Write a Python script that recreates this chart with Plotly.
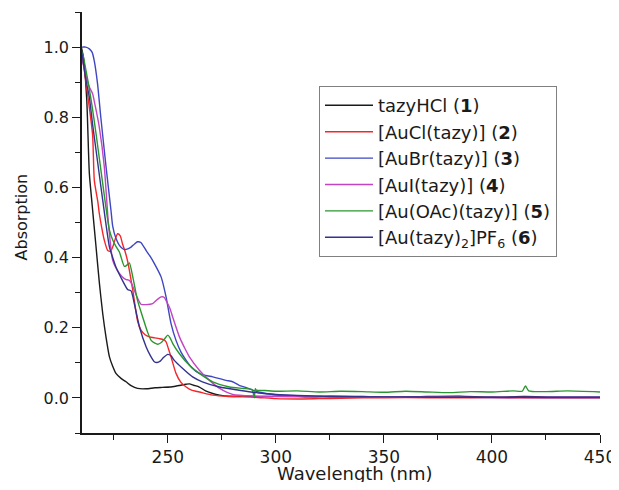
import plotly.graph_objects as go

# ---- data (wavelength in nm, absorption) ----
wl_1 = [210, 211, 212.5, 213.7, 215, 216.8, 218.3, 219.9, 221.5, 223, 224.5, 226, 228.5, 230.7, 233, 236, 240, 244, 247.6, 251, 254, 256.5, 258.5, 260, 262, 264.6, 267.5, 270.8, 274, 278.5, 285, 295, 305, 315, 325, 340, 355, 370, 385, 400, 415, 430, 450]
ab_1 = [1.0, 0.97, 0.85, 0.64, 0.55, 0.43, 0.33, 0.24, 0.17, 0.117, 0.09, 0.07, 0.055, 0.046, 0.035, 0.027, 0.026, 0.029, 0.03, 0.031, 0.034, 0.037, 0.039, 0.04, 0.036, 0.031, 0.02, 0.0125, 0.008, 0.005, 0.005, 0.004, 0.006, 0.003, 0.005, 0.004, 0.002, 0.004, 0.005, 0.002, 0.004, 0.002, 0.002]

wl_2 = [210, 211, 213, 215.2, 216, 217.6, 218.3, 219.9, 220.6, 222.2, 223.5, 224.5, 225.8, 226.8, 228, 229, 230.2, 231.4, 233.8, 236, 237.6, 239.5, 241.5, 244, 246, 248, 249.2, 250.3, 251.5, 253.8, 256, 258.5, 261, 264.6, 270.8, 278, 290, 300, 310, 320, 330, 340, 360, 380, 400, 420, 450]
ab_2 = [0.98, 0.95, 0.86, 0.75, 0.62, 0.56, 0.526, 0.47, 0.45, 0.42, 0.418, 0.43, 0.455, 0.468, 0.462, 0.44, 0.418, 0.39, 0.307, 0.22, 0.193, 0.18, 0.174, 0.171, 0.169, 0.166, 0.16, 0.14, 0.117, 0.07, 0.045, 0.031, 0.022, 0.017, 0.008, 0.004, 0.002, -0.002, -0.003, -0.002, -0.001, 0.0, 0.001, 0.0, 0.001, 0.0, 0.0]

wl_3 = [210, 210.6, 212, 213.7, 215, 216, 217.5, 219, 221.4, 223.7, 224.5, 226, 227.6, 229, 229.9, 231.5, 233, 234.5, 236, 237.5, 240, 242, 243.8, 246.9, 249.2, 251.5, 253.8, 256, 258.5, 261, 264.6, 267.5, 270.8, 274, 277, 280, 283, 286, 289.3, 292, 295.5, 300, 310, 320, 335, 350, 375, 400, 425, 450]
ab_3 = [1.0, 1.0, 1.0, 0.995, 0.985, 0.96, 0.895, 0.8, 0.66, 0.535, 0.49, 0.455, 0.435, 0.426, 0.423, 0.425, 0.43, 0.438, 0.445, 0.443, 0.42, 0.402, 0.383, 0.345, 0.288, 0.212, 0.164, 0.132, 0.107, 0.087, 0.07, 0.064, 0.06, 0.055, 0.05, 0.046, 0.036, 0.03, 0.022, 0.017, 0.0125, 0.009, 0.006, 0.004, 0.003, 0.002, 0.002, 0.001, 0.002, 0.002]

wl_4 = [210, 211, 212.5, 213.7, 215.2, 216.5, 218.3, 220.6, 222.5, 224.5, 226.5, 229, 230.5, 232.2, 233.3, 234.5, 236, 237.6, 240, 243, 245, 246.9, 248.3, 249.5, 251, 252.3, 255.4, 258, 260, 264.6, 269.3, 274, 280, 290, 300, 320, 350, 380, 410, 450]
ab_4 = [0.97, 0.948, 0.91, 0.886, 0.867, 0.83, 0.772, 0.66, 0.5, 0.392, 0.365, 0.345, 0.338, 0.335, 0.325, 0.307, 0.285, 0.267, 0.266, 0.269, 0.28, 0.288, 0.287, 0.274, 0.255, 0.23, 0.174, 0.14, 0.117, 0.079, 0.05, 0.027, 0.01, 0.005, 0.004, 0.003, 0.002, 0.002, 0.001, 0.001]

wl_5 = [210, 210.6, 213, 215, 216.8, 219.9, 223, 224.5, 226, 227.6, 229.9, 231, 232.2, 233.8, 236, 238.4, 240.5, 242.3, 244, 245.4, 247, 248.5, 250, 251, 252.3, 255.4, 260, 264.6, 270.8, 278.5, 285, 289, 290, 290.5, 291, 295, 300, 310, 320, 330, 340, 350, 360, 370, 380, 390, 400, 410, 414, 415.5, 417, 425, 435, 450]
ab_5 = [0.99, 0.98, 0.905, 0.83, 0.753, 0.61, 0.478, 0.45, 0.432, 0.416, 0.375, 0.378, 0.385, 0.345, 0.278, 0.23, 0.19, 0.164, 0.156, 0.153, 0.158, 0.168, 0.179, 0.172, 0.155, 0.126, 0.093, 0.07, 0.046, 0.031, 0.027, 0.024, 0.0, 0.026, 0.022, 0.021, 0.019, 0.02, 0.017, 0.019, 0.018, 0.016, 0.019, 0.017, 0.015, 0.018, 0.017, 0.02, 0.019, 0.034, 0.02, 0.018, 0.02, 0.017]

wl_6 = [210, 210.6, 212, 213.7, 215.2, 216.8, 219.9, 223, 224.5, 226, 229, 231.4, 233, 234.5, 236.9, 240, 242, 243.8, 245, 246.5, 248, 250, 251.5, 253, 256.9, 261.5, 266, 274, 283, 292, 300, 310, 325, 350, 375, 400, 425, 450]
ab_6 = [0.99, 0.97, 0.91, 0.857, 0.78, 0.706, 0.563, 0.43, 0.4, 0.373, 0.335, 0.309, 0.305, 0.269, 0.202, 0.145, 0.12, 0.103, 0.101, 0.105, 0.115, 0.124, 0.12, 0.107, 0.084, 0.06, 0.046, 0.031, 0.022, 0.014, 0.01, 0.007, 0.004, 0.003, 0.002, 0.002, 0.001, 0.001]

names = [
    "tazyHCl (<b>1</b>)",
    "[AuCl(tazy)] (<b>2</b>)",
    "[AuBr(tazy)] (<b>3</b>)",
    "[AuI(tazy)] (<b>4</b>)",
    "[Au(OAc)(tazy)] (<b>5</b>)",
    "[Au(tazy)<sub>2</sub>]PF<sub>6</sub> (<b>6</b>)",
]
colors = ["#1a1a1a", "#f5262b", "#3e47c2", "#c244c2", "#2a962f", "#33338f"]

x_ticks = [250, 300, 350, 400, 450]
y_ticks = [0.0, 0.2, 0.4, 0.6, 0.8, 1.0]
x_title = "Wavelength (nm)"
y_title = "Absorption"

series = [(wl_1, ab_1), (wl_2, ab_2), (wl_3, ab_3), (wl_4, ab_4), (wl_5, ab_5), (wl_6, ab_6)]

fig = go.Figure()
for (xs, ys), nm, c in zip(series, names, colors):
    fig.add_trace(go.Scatter(x=xs, y=ys, mode="lines", name=nm,
                             line=dict(color=c, width=1.4, shape="spline", smoothing=0.6)))

font_family = "DejaVu Sans, sans-serif"
# page body adds an 8px offset; figure sized so the page does not overflow the window
fig.update_layout(
    width=611, height=474,
    margin=dict(l=74, r=19, t=4, b=49),
    paper_bgcolor="white", plot_bgcolor="white",
    font=dict(family=font_family, color="#1a1a1a"),
    showlegend=True,
    legend=dict(x=0.4575, y=0.824, xanchor="left", yanchor="top",
                bordercolor="#808080", borderwidth=1, bgcolor="white",
                font=dict(size=18, family=font_family, color="#1a1a1a"),
                itemwidth=48, tracegroupgap=0),
    annotations=[
        dict(text=x_title, xref="paper", yref="paper", x=0.527, y=0,
             xanchor="center", yanchor="middle", yshift=-40, showarrow=False,
             font=dict(size=18, family=font_family, color="#1a1a1a")),
        dict(text=y_title, xref="paper", yref="paper", x=0, y=0.512,
             xanchor="center", yanchor="middle", xshift=-61, textangle=-90,
             showarrow=False, font=dict(size=16, family=font_family, color="#1a1a1a")),
    ],
)
fig.update_xaxes(
    range=[210.3, 450], showgrid=False, zeroline=False, automargin=False,
    showline=True, linecolor="#1a1a1a", linewidth=1.5,
    ticks="outside", ticklen=8, tickwidth=1.3, tickcolor="#1a1a1a",
    tickvals=x_ticks, ticktext=[str(v) for v in x_ticks],
    tickfont=dict(size=17), ticklabeloverflow="allow",
    minor=dict(ticks="outside", ticklen=5, tickwidth=1.3, tickcolor="#1a1a1a", dtick=25, tick0=225),
)
fig.update_yaxes(
    range=[-0.1, 1.1], showgrid=False, zeroline=False, automargin=False,
    showline=True, linecolor="#1a1a1a", linewidth=1.5,
    ticks="outside", ticklen=8, tickwidth=1.3, tickcolor="#1a1a1a",
    tickvals=y_ticks, ticktext=["%.1f" % v for v in y_ticks],
    tickfont=dict(size=16),
    minor=dict(ticks="outside", ticklen=5, tickwidth=1.3, tickcolor="#1a1a1a", dtick=0.1, tick0=0.1),
)

fig.write_html("out.html")
